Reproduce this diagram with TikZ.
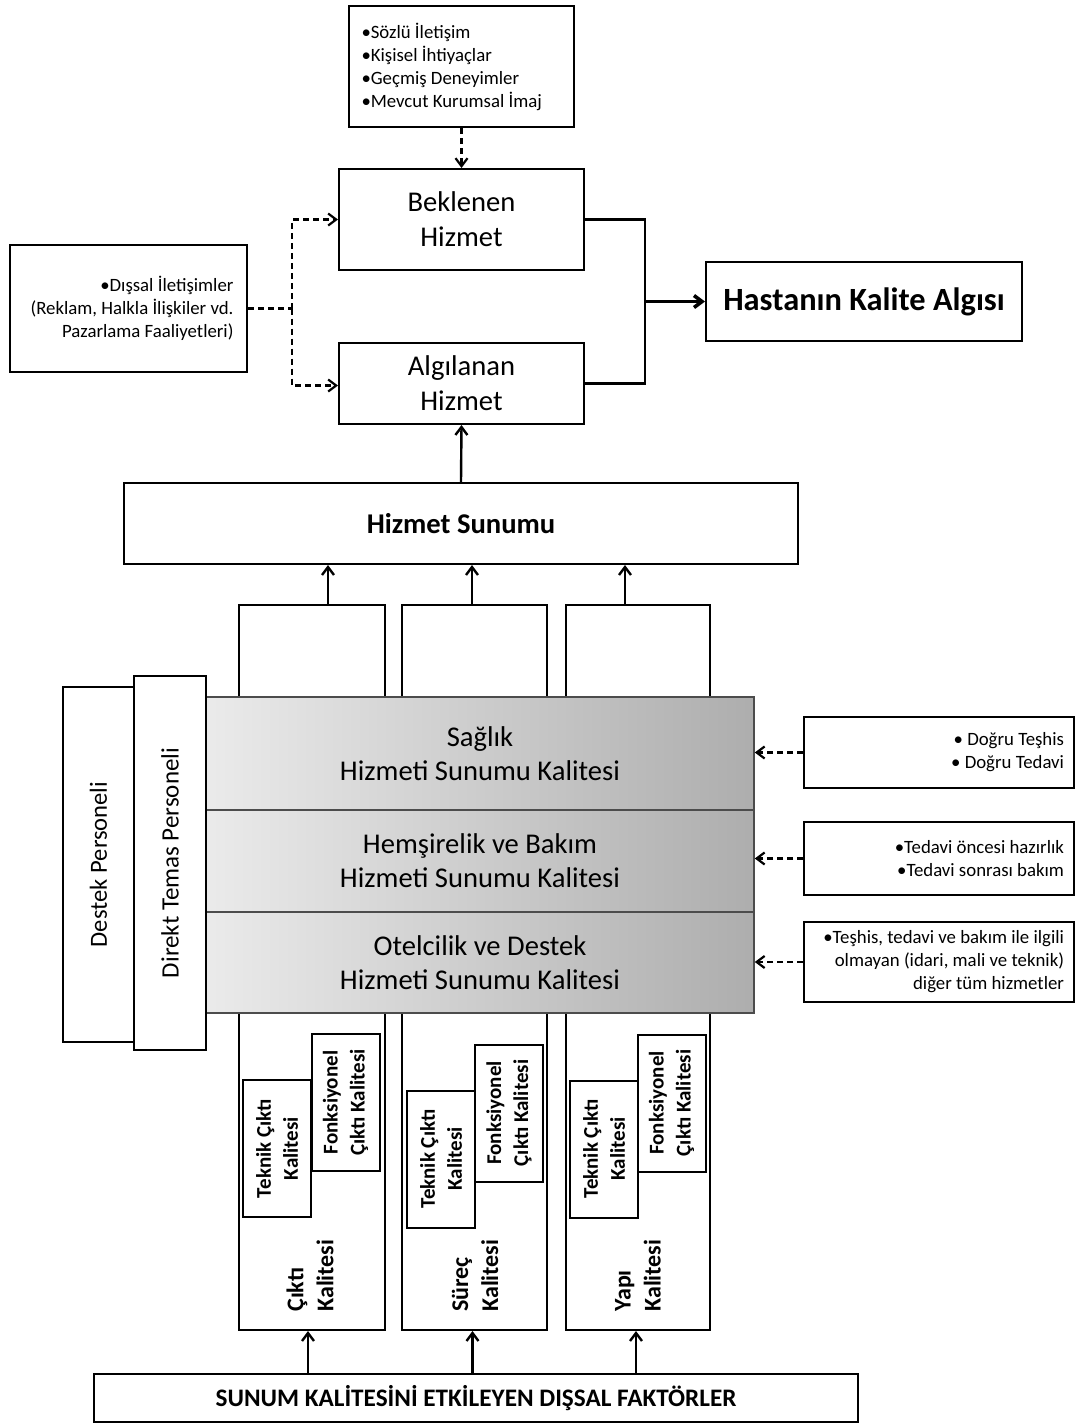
\documentclass[tikz,border=0pt]{standalone}
\usepackage{fontspec}
\setmainfont{Carlito}
\usetikzlibrary{positioning,arrows.meta}

\newlength\px
\setlength\px{0.5pt}

\tikzset{
  box/.style={draw, line width=1pt, inner sep=0pt, fill=white},
  bandrow/.style={draw=black!70, line width=0.8pt, left color=black!8, right color=black!32,
    minimum width=548\px, inner sep=0pt, align=center, font=\fontsize{14.3}{17}\selectfont},
  arr/.style={line width=1.2pt, -{Straight Barb[length=4pt,width=6pt]}},
  dasharr/.style={line width=1.1pt, dash pattern=on 3pt off 2pt, -{Straight Barb[length=4pt,width=6pt]}},
  dashline/.style={line width=1.1pt, dash pattern=on 3pt off 2pt},
  smalltxt/.style={font=\fontsize{9.4}{11.5}\selectfont,
    execute at begin node={\spaceskip=\fontdimen2\font\xspaceskip=\fontdimen2\font\relax}},
  midtxt/.style={font=\fontsize{14.3}{17.5}\selectfont},
  subbox/.style={box, rotate=90, minimum width=137\px, minimum height=68\px, align=center,
    font=\bfseries\fontsize{10.5}{13.5}\selectfont},
  collabel/.style={rotate=90, anchor=west, inner sep=0pt, align=left,
    font=\bfseries\fontsize{12}{15}\selectfont},
}

\begin{document}
\begin{tikzpicture}[x=0.5pt, y=-0.5pt]
  \useasboundingbox (0,0) rectangle (1076,1425);

  % Expected / perceived service
  \node[box, smalltxt, minimum width=225\px, minimum height=121\px, text width=200\px, align=left]
    (facts) at (461.5,66.5) {\textbullet Sözlü İletişim\\\textbullet Kişisel İhtiyaçlar\\\textbullet Geçmiş Deneyimler\\\textbullet Mevcut Kurumsal İmaj};
  \node[box, midtxt, minimum width=245\px, minimum height=101\px, align=center]
    (beklenen) at (461.5,219.5) {Beklenen\\Hizmet};
  \node[box, midtxt, minimum width=245\px, minimum height=81\px, align=center]
    (algilanan) at (461.5,383.5) {Algılanan\\Hizmet};
  \node[box, font=\bfseries\fontsize{16.2}{19}\selectfont, minimum width=316\px, minimum height=79\px]
    (hastanin) at (864,301.5) {Hastanın Kalite Algısı};
  \node[box, smalltxt, minimum width=237\px, minimum height=127\px, text width=210\px, align=right]
    (dissal) at (128.5,308.5) {\textbullet Dışsal İletişimler\\(Reklam, Halkla İlişkiler vd.\\Pazarlama Faaliyetleri)};

  \draw[dasharr] (facts.south) -- (beklenen.north);
  \coordinate (dj) at (292,308.5);
  \draw[dashline] (dissal.east) -- (dj);
  \draw[dasharr] (dj) |- (beklenen.west);
  \draw[dasharr] (dj) |- ([yshift=-2\px]algilanan.west);

  \coordinate (mj) at (645,301.5);
  \draw[line width=1.2pt] (beklenen.east) -| (mj);
  \draw[line width=1.2pt] (algilanan.east) -| (mj);
  \draw[line width=1.8pt, -{Straight Barb[length=4pt,width=6pt]}] (mj) -- (hastanin.west);

  % Service delivery
  \node[box, font=\bfseries\fontsize{14.3}{17}\selectfont, minimum width=674\px, minimum height=81\px]
    (sunum) at (461,523.5) {Hizmet Sunumu};
  \draw[arr] (sunum.north) -- (algilanan.south);

  % Quality columns
  \node[box, minimum width=146\px, minimum height=725\px] (colA) at (312,967.5) {};
  \node[box, minimum width=145\px, minimum height=725\px] (colB) at (474.5,967.5) {};
  \node[box, minimum width=144\px, minimum height=725\px] (colC) at (638,967.5) {};
  \draw[arr] ([xshift=16\px]colA.north) -- ([xshift=16\px]colA.north |- sunum.south);
  \draw[arr] ([xshift=-2.5\px]colB.north) -- ([xshift=-2.5\px]colB.north |- sunum.south);
  \draw[arr] ([xshift=-13\px]colC.north) -- ([xshift=-13\px]colC.north |- sunum.south);

  % Service quality band
  \node[bandrow, minimum height=113\px] (saglik) at (480,753.5) {Sağlık\\Hizmeti Sunumu Kalitesi};
  \node[bandrow, minimum height=102\px] (hemsire) at (480,861) {Hemşirelik ve Bakım\\Hizmeti Sunumu Kalitesi};
  \node[bandrow, minimum height=101\px] (otel) at (480,962.5) {Otelcilik ve Destek\\Hizmeti Sunumu Kalitesi};

  % Staff
  \node[box, rotate=90, minimum width=355\px, minimum height=71\px, font=\fontsize{12.3}{15}\selectfont]
    (destek) at (98.5,864.5) {Destek Personeli};
  \node[box, rotate=90, minimum width=374\px, minimum height=72\px, font=\fontsize{12.5}{15}\selectfont]
    (direkt) at (170,863) {Direkt Temas Personeli};

  % Inputs on the right
  \node[box, smalltxt, minimum width=270\px, minimum height=71\px, text width=250\px, align=right]
    (dogru) at (939,752.5) {\textbullet{} Doğru Teşhis\\\textbullet{} Doğru Tedavi};
  \node[box, smalltxt, minimum width=270\px, minimum height=73\px, text width=250\px, align=right]
    (tedavi) at (939,858.5) {\textbullet Tedavi öncesi hazırlık\\\textbullet Tedavi sonrası bakım};
  \node[box, smalltxt, minimum width=270\px, minimum height=80\px, text width=250\px, align=right]
    (diger) at (939,962) {\textbullet Teşhis, tedavi ve bakım ile ilgili\\olmayan (idari, mali ve teknik)\\diğer tüm hizmetler};
  \draw[dasharr] (dogru.west) -- (dogru.west -| saglik.east);
  \draw[dasharr] (tedavi.west) -- (tedavi.west -| hemsire.east);
  \draw[dasharr] (diger.west) -- (diger.west -| otel.east);

  % Output, process and structure quality
  \node[subbox] (tekA) at (277,1148.5) {Teknik Çıktı\\Kalitesi};
  \node[subbox] (fonA) at (345.5,1102.5) {Fonksiyonel\\Çıktı Kalitesi};
  \node[collabel] (labA) at (310,1312) {Çıktı\\Kalitesi};

  \node[subbox] (tekB) at (441,1159) {Teknik Çıktı\\Kalitesi};
  \node[subbox] (fonB) at (509,1113) {Fonksiyonel\\Çıktı Kalitesi};
  \node[collabel] (labB) at (475,1312) {Süreç\\Kalitesi};

  \node[subbox] (tekC) at (604,1149) {Teknik Çıktı\\Kalitesi};
  \node[subbox] (fonC) at (671.5,1103) {Fonksiyonel\\Çıktı Kalitesi};
  \node[collabel] (labC) at (638,1312) {Yapı\\Kalitesi};

  % External factors
  \node[box, font=\bfseries\fontsize{12.6}{15}\selectfont, minimum width=764\px, minimum height=48\px]
    (faktor) at (476,1398) {SUNUM KALİTESİNİ ETKİLEYEN DIŞSAL FAKTÖRLER};
  \draw[arr] ([xshift=-4\px]faktor.north -| colA.south) -- ([xshift=-4\px]colA.south);
  \draw[arr] ([xshift=-2\px]faktor.north -| colB.south) -- ([xshift=-2\px]colB.south);
  \draw[arr] ([xshift=-2\px]faktor.north -| colC.south) -- ([xshift=-2\px]colC.south);
\end{tikzpicture}
\end{document}
